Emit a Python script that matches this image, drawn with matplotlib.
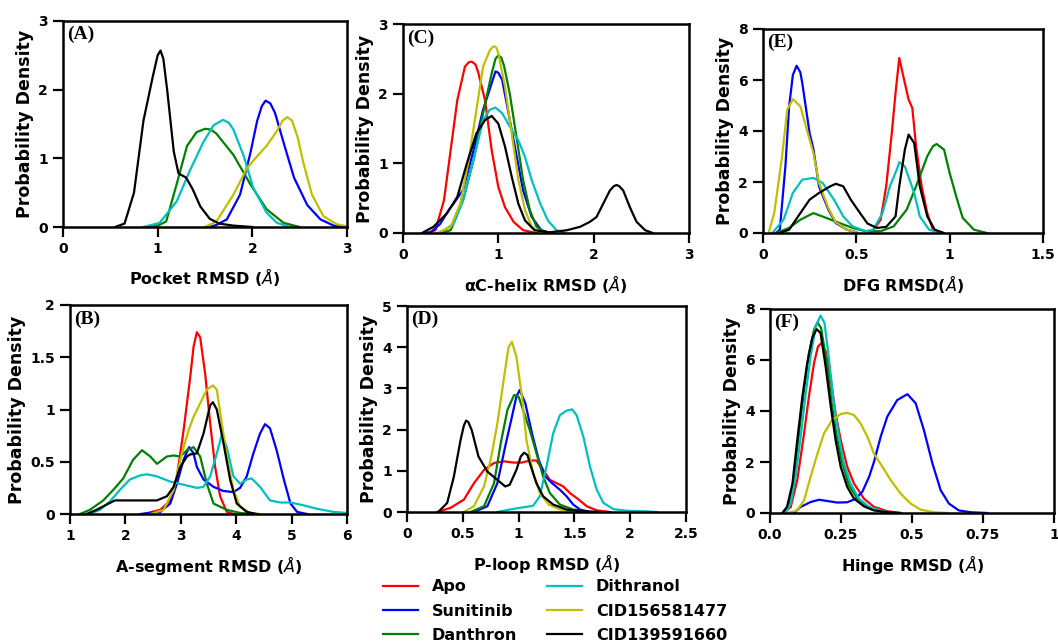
import matplotlib
matplotlib.use("Agg")
import matplotlib.pyplot as plt

W, H = 1058, 643

series_names = ["Apo", "Sunitinib", "Danthron", "Dithranol", "CID156581477", "CID139591660"]
series_colors = ["r", "b", "g", "c", "y", "k"]

# ---------------- Panel A: Pocket RMSD ----------------
A_sun_x = [1.55, 1.62, 1.73, 1.87, 1.98, 2.05, 2.1, 2.14, 2.19, 2.24, 2.33, 2.44, 2.58, 2.72, 2.86, 3.0]
A_sun_y = [0, 0.03, 0.11, 0.47, 1.08, 1.54, 1.76, 1.84, 1.8, 1.66, 1.23, 0.72, 0.32, 0.11, 0.02, 0]
A_dan_x = [0.9, 1.0, 1.09, 1.2, 1.31, 1.41, 1.5, 1.56, 1.62, 1.8, 1.98, 2.15, 2.33, 2.5]
A_dan_y = [0, 0.02, 0.08, 0.62, 1.18, 1.38, 1.43, 1.42, 1.36, 1.05, 0.62, 0.26, 0.06, 0.0]
A_dit_x = [0.85, 1.02, 1.2, 1.34, 1.48, 1.59, 1.69, 1.75, 1.8, 1.91, 2.01, 2.15, 2.26, 2.4]
A_dit_y = [0, 0.06, 0.37, 0.82, 1.23, 1.48, 1.56, 1.52, 1.42, 1.03, 0.57, 0.21, 0.06, 0.0]
A_c156_x = [1.5, 1.62, 1.8, 1.94, 2.05, 2.15, 2.26, 2.32, 2.37, 2.42, 2.48, 2.54, 2.63, 2.75, 2.89, 3.0]
A_c156_y = [0, 0.08, 0.47, 0.85, 1.03, 1.18, 1.4, 1.55, 1.6, 1.55, 1.3, 0.93, 0.47, 0.16, 0.04, 0.01]
A_c139_x = [0.55, 0.65, 0.75, 0.85, 0.95, 1.0, 1.03, 1.06, 1.1, 1.17, 1.22, 1.3, 1.37, 1.45, 1.55, 1.65, 1.8, 2.0]
A_c139_y = [0, 0.05, 0.5, 1.55, 2.2, 2.5, 2.57, 2.45, 2.0, 1.1, 0.78, 0.72, 0.55, 0.3, 0.12, 0.05, 0.02, 0]

# ---------------- Panel C: aC-helix RMSD ----------------
C_apo_x = [0.25, 0.34, 0.43, 0.5, 0.57, 0.65, 0.69, 0.72, 0.76, 0.79, 0.86, 0.93, 1.0, 1.07, 1.16, 1.26, 1.4]
C_apo_y = [0, 0.04, 0.47, 1.19, 1.91, 2.39, 2.45, 2.46, 2.42, 2.3, 1.91, 1.19, 0.66, 0.37, 0.16, 0.04, 0]
C_sun_x = [0.22, 0.29, 0.39, 0.48, 0.53, 0.63, 0.74, 0.84, 0.93, 0.97, 1.0, 1.04, 1.1, 1.18, 1.26, 1.35, 1.45, 1.55]
C_sun_y = [0, 0.01, 0.13, 0.33, 0.42, 0.62, 1.19, 1.77, 2.15, 2.32, 2.3, 2.2, 1.77, 1.19, 0.61, 0.23, 0.04, 0]
C_dan_x = [0.4, 0.5, 0.63, 0.74, 0.84, 0.93, 0.97, 1.0, 1.03, 1.06, 1.12, 1.19, 1.26, 1.33, 1.4, 1.5]
C_dan_y = [0, 0.04, 0.47, 1.05, 1.72, 2.29, 2.5, 2.55, 2.52, 2.4, 2.0, 1.38, 0.76, 0.33, 0.09, 0]
C_dit_x = [0.39, 0.53, 0.63, 0.74, 0.84, 0.91, 0.97, 1.04, 1.12, 1.21, 1.28, 1.35, 1.44, 1.52, 1.61, 1.7]
C_dit_y = [0, 0.13, 0.47, 1.05, 1.62, 1.77, 1.8, 1.72, 1.53, 1.33, 1.09, 0.76, 0.42, 0.18, 0.04, 0]
C_c156_x = [0.36, 0.5, 0.6, 0.69, 0.77, 0.84, 0.91, 0.94, 0.96, 0.98, 1.0, 1.07, 1.14, 1.21, 1.28, 1.35, 1.45]
C_c156_y = [0, 0.09, 0.42, 1.05, 1.77, 2.39, 2.62, 2.67, 2.68, 2.66, 2.58, 2.1, 1.43, 0.76, 0.33, 0.09, 0]
C_c139_x = [0.2, 0.32, 0.46, 0.57, 0.67, 0.77, 0.86, 0.93, 1.0, 1.07, 1.14, 1.21, 1.28, 1.38, 1.54, 1.72, 1.86, 1.96,
            2.03, 2.1, 2.17, 2.21, 2.24, 2.27, 2.31, 2.38, 2.45, 2.54, 2.62]
C_c139_y = [0, 0.09, 0.28, 0.52, 1.0, 1.43, 1.62, 1.68, 1.57, 1.24, 0.81, 0.42, 0.18, 0.04, 0.01, 0.04, 0.09, 0.16,
            0.23, 0.42, 0.61, 0.67, 0.69, 0.67, 0.61, 0.37, 0.16, 0.04, 0]

# ---------------- Panel E: DFG RMSD ----------------
E_apo_x = [0.58, 0.63, 0.66, 0.69, 0.71, 0.73, 0.75, 0.78, 0.8, 0.82, 0.85, 0.88, 0.91, 0.95]
E_apo_y = [0, 0.52, 1.83, 3.92, 5.49, 6.86, 6.2, 5.23, 4.9, 3.4, 1.83, 0.78, 0.13, 0]
E_sun_x = [0.07, 0.09, 0.12, 0.14, 0.16, 0.18, 0.2, 0.21, 0.23, 0.25, 0.27, 0.3, 0.35, 0.39, 0.45, 0.5]
E_sun_y = [0, 0.13, 2.61, 4.97, 6.2, 6.56, 6.3, 5.9, 4.9, 3.9, 3.3, 1.83, 0.92, 0.39, 0.13, 0.03]
E_dan_x = [0.07, 0.14, 0.2, 0.27, 0.34, 0.41, 0.48, 0.55, 0.63, 0.7, 0.77, 0.82, 0.88, 0.91, 0.93, 0.97, 1.0, 1.04,
           1.07, 1.13, 1.2]
E_dan_y = [0, 0.2, 0.52, 0.78, 0.59, 0.39, 0.2, 0.07, 0.07, 0.26, 0.92, 1.83, 3.01, 3.4, 3.49, 3.27, 2.35, 1.31,
           0.59, 0.13, 0]
E_dit_x = [0.05, 0.11, 0.16, 0.21, 0.27, 0.32, 0.38, 0.43, 0.48, 0.55, 0.59, 0.64, 0.68, 0.72, 0.73, 0.76, 0.81,
           0.84, 0.89, 0.95]
E_dit_y = [0, 0.52, 1.57, 2.09, 2.16, 1.96, 1.31, 0.65, 0.26, 0.07, 0.13, 0.78, 1.83, 2.55, 2.78, 2.61, 1.57,
           0.65, 0.13, 0]
E_c156_x = [0.03, 0.06, 0.1, 0.13, 0.16, 0.2, 0.23, 0.27, 0.3, 0.35, 0.39, 0.45, 0.5]
E_c156_y = [0, 0.78, 2.88, 4.84, 5.25, 4.97, 4.18, 3.14, 1.96, 0.98, 0.42, 0.13, 0.03]
E_c139_x = [0.09, 0.14, 0.2, 0.25, 0.3, 0.36, 0.39, 0.43, 0.47, 0.52, 0.56, 0.61, 0.66, 0.71, 0.73, 0.76, 0.78,
            0.81, 0.84, 0.88, 0.92, 0.97]
E_c139_y = [0, 0.13, 0.78, 1.31, 1.57, 1.83, 1.93, 1.83, 1.31, 0.78, 0.37, 0.2, 0.24, 0.65, 1.83, 3.27, 3.86,
            3.53, 1.83, 0.65, 0.13, 0]

# ---------------- Panel B: A-segment RMSD ----------------
B_apo_x = [2.33, 2.63, 2.81, 2.93, 3.05, 3.17, 3.23, 3.29, 3.35, 3.44, 3.53, 3.62, 3.71, 3.83, 3.95]
B_apo_y = [0, 0.04, 0.13, 0.36, 0.8, 1.31, 1.6, 1.74, 1.69, 1.34, 0.87, 0.45, 0.17, 0.02, 0]
B_sun_x = [2.27, 2.63, 2.81, 2.93, 3.05, 3.15, 3.23, 3.29, 3.41, 3.59, 3.77, 3.95, 4.07, 4.19, 4.31, 4.43, 4.52,
           4.61, 4.73, 4.86, 4.98, 5.1, 5.28]
B_sun_y = [0, 0.02, 0.1, 0.29, 0.52, 0.64, 0.58, 0.45, 0.33, 0.26, 0.22, 0.21, 0.25, 0.36, 0.58, 0.77, 0.86,
           0.82, 0.61, 0.33, 0.1, 0.02, 0]
B_dan_x = [1.18, 1.36, 1.6, 1.78, 1.96, 2.14, 2.3, 2.45, 2.57, 2.75, 2.87, 2.99, 3.11, 3.23, 3.35, 3.47, 3.59,
           3.83, 4.07, 4.31]
B_dan_y = [0, 0.04, 0.13, 0.23, 0.34, 0.52, 0.61, 0.55, 0.48, 0.55, 0.56, 0.55, 0.61, 0.64, 0.55, 0.29, 0.1,
           0.04, 0.01, 0]
B_dit_x = [1.36, 1.54, 1.72, 1.9, 2.08, 2.27, 2.39, 2.57, 2.81, 3.05, 3.29, 3.41, 3.53, 3.65, 3.74, 3.83, 3.95,
           4.07, 4.19, 4.28, 4.43, 4.61, 4.8, 4.98, 5.16, 5.46, 5.76, 6.0]
B_dit_y = [0, 0.04, 0.12, 0.23, 0.33, 0.37, 0.38, 0.36, 0.31, 0.28, 0.25, 0.26, 0.36, 0.58, 0.76, 0.64, 0.36,
           0.29, 0.33, 0.34, 0.26, 0.13, 0.11, 0.11, 0.09, 0.05, 0.02, 0.01]
B_c156_x = [2.45, 2.69, 2.87, 3.02, 3.14, 3.23, 3.35, 3.47, 3.58, 3.65, 3.74, 3.83, 3.95, 4.07, 4.25, 4.43]
B_c156_y = [0, 0.04, 0.23, 0.58, 0.8, 0.93, 1.06, 1.19, 1.23, 1.19, 0.87, 0.55, 0.23, 0.07, 0.01, 0]
B_c139_x = [1.3, 1.48, 1.66, 1.81, 1.96, 2.27, 2.57, 2.75, 2.87, 2.99, 3.11, 3.17, 3.29, 3.41, 3.53, 3.58, 3.65,
            3.77, 3.89, 4.01, 4.19, 4.37]
B_c139_y = [0, 0.04, 0.09, 0.13, 0.13, 0.13, 0.13, 0.17, 0.26, 0.45, 0.55, 0.57, 0.58, 0.77, 1.04, 1.07, 1.0,
            0.68, 0.33, 0.1, 0.02, 0]

# ---------------- Panel D: P-loop RMSD ----------------
D_apo_x = [0.27, 0.39, 0.51, 0.6, 0.69, 0.78, 0.87, 0.95, 1.03, 1.1, 1.16, 1.22, 1.28, 1.34, 1.4, 1.46, 1.54,
           1.61, 1.7, 1.82]
D_apo_y = [0, 0.1, 0.3, 0.7, 1.02, 1.19, 1.23, 1.2, 1.2, 1.25, 1.25, 1.02, 0.78, 0.7, 0.62, 0.46, 0.3, 0.14,
           0.04, 0]
D_sun_x = [0.6, 0.72, 0.81, 0.88, 0.94, 0.98, 1.01, 1.06, 1.12, 1.18, 1.24, 1.3, 1.37, 1.43, 1.49, 1.55, 1.64]
D_sun_y = [0, 0.14, 0.7, 1.59, 2.31, 2.8, 2.96, 2.64, 1.91, 1.27, 0.86, 0.7, 0.54, 0.38, 0.18, 0.06, 0]
D_dan_x = [0.57, 0.69, 0.78, 0.84, 0.9, 0.96, 1.0, 1.04, 1.1, 1.16, 1.22, 1.28, 1.37, 1.49, 1.61]
D_dan_y = [0, 0.14, 0.7, 1.67, 2.48, 2.84, 2.8, 2.48, 1.99, 1.43, 0.86, 0.46, 0.18, 0.06, 0]
D_dit_x = [0.81, 0.92, 1.01, 1.13, 1.19, 1.25, 1.31, 1.37, 1.43, 1.48, 1.52, 1.58, 1.64, 1.7, 1.76, 1.85, 1.97,
           2.12, 2.24]
D_dit_y = [0, 0.06, 0.1, 0.15, 0.38, 1.1, 1.91, 2.35, 2.46, 2.49, 2.35, 1.83, 1.1, 0.54, 0.22, 0.07, 0.03,
           0.02, 0]
D_c156_x = [0.51, 0.6, 0.69, 0.75, 0.81, 0.87, 0.91, 0.94, 0.98, 1.03, 1.07, 1.13, 1.19, 1.27, 1.37, 1.52]
D_c156_y = [0, 0.14, 0.62, 1.27, 2.15, 3.28, 4.0, 4.13, 3.77, 2.8, 1.75, 0.94, 0.46, 0.18, 0.06, 0]
D_c139_x = [0.28, 0.36, 0.42, 0.48, 0.51, 0.53, 0.55, 0.58, 0.64, 0.72, 0.81, 0.88, 0.92, 0.98, 1.02, 1.05, 1.08,
            1.1, 1.16, 1.22, 1.31, 1.43, 1.58, 1.73]
D_c139_y = [0, 0.22, 0.86, 1.75, 2.1, 2.22, 2.18, 1.99, 1.35, 0.98, 0.78, 0.62, 0.66, 1.02, 1.35, 1.44, 1.38,
            1.19, 0.7, 0.38, 0.18, 0.06, 0.02, 0]

# ---------------- Panel F: Hinge RMSD ----------------
F_apo_x = [0.049, 0.073, 0.096, 0.12, 0.137, 0.155, 0.169, 0.181, 0.196, 0.214, 0.231, 0.249, 0.272, 0.296,
           0.331, 0.366, 0.413, 0.46]
F_apo_y = [0, 0.24, 1.29, 3.12, 4.56, 5.88, 6.53, 6.66, 6.33, 5.22, 3.91, 2.86, 1.81, 1.15, 0.56, 0.24, 0.07, 0]
F_sun_x = [0.085, 0.108, 0.143, 0.173, 0.202, 0.237, 0.272, 0.302, 0.325, 0.349, 0.366, 0.39, 0.413, 0.448,
           0.484, 0.513, 0.542, 0.572, 0.601, 0.63, 0.665, 0.707, 0.765]
F_sun_y = [0, 0.24, 0.43, 0.52, 0.47, 0.41, 0.42, 0.56, 0.83, 1.42, 2.0, 3.0, 3.78, 4.43, 4.66, 4.3, 3.25, 1.94,
           0.89, 0.37, 0.1, 0.03, 0]
F_dan_x = [0.049, 0.067, 0.085, 0.102, 0.12, 0.137, 0.155, 0.167, 0.18, 0.2, 0.217, 0.235, 0.255, 0.278, 0.308,
           0.343, 0.39, 0.437]
F_dan_y = [0, 0.37, 1.42, 3.12, 4.83, 6.27, 7.19, 7.48, 7.25, 5.88, 4.3, 2.99, 1.94, 1.09, 0.56, 0.24, 0.07, 0]
F_dit_x = [0.055, 0.073, 0.09, 0.108, 0.126, 0.143, 0.161, 0.178, 0.192, 0.208, 0.225, 0.243, 0.26, 0.284,
           0.313, 0.349, 0.396, 0.442]
F_dit_y = [0, 0.37, 1.42, 2.99, 4.7, 6.14, 7.32, 7.74, 7.45, 6.01, 4.3, 2.99, 1.94, 1.15, 0.56, 0.24, 0.07, 0]
F_c156_x = [0.061, 0.096, 0.12, 0.143, 0.167, 0.19, 0.219, 0.249, 0.272, 0.296, 0.319, 0.343, 0.366, 0.396,
            0.425, 0.46, 0.495, 0.531, 0.577, 0.624]
F_c156_y = [0, 0.1, 0.5, 1.42, 2.33, 3.12, 3.65, 3.88, 3.93, 3.84, 3.51, 2.99, 2.33, 1.81, 1.29, 0.76, 0.37,
            0.13, 0.03, 0]
F_c139_x = [0.043, 0.06, 0.079, 0.096, 0.114, 0.131, 0.149, 0.164, 0.178, 0.196, 0.214, 0.231, 0.249, 0.272,
            0.296, 0.331, 0.366, 0.413, 0.46]
F_c139_y = [0, 0.24, 1.15, 2.86, 4.56, 5.88, 6.86, 7.21, 7.06, 5.74, 4.17, 2.86, 1.81, 1.02, 0.56, 0.26, 0.1,
            0.03, 0]

# ---------------- Axis definitions ----------------
A_xticks = [0, 1, 2, 3]; A_xlabels = ["0", "1", "2", "3"]
A_yticks = [0, 1, 2, 3]; A_ylabels = ["0", "1", "2", "3"]
C_xticks = [0, 1, 2, 3]; C_xlabels = ["0", "1", "2", "3"]
C_yticks = [0, 1, 2, 3]; C_ylabels = ["0", "1", "2", "3"]
E_xticks = [0, 0.5, 1, 1.5]; E_xlabels = ["0", "0.5", "1", "1.5"]
E_yticks = [0, 2, 4, 6, 8]; E_ylabels = ["0", "2", "4", "6", "8"]
B_xticks = [1, 2, 3, 4, 5, 6]; B_xlabels = ["1", "2", "3", "4", "5", "6"]
B_yticks = [0, 0.5, 1, 1.5, 2]; B_ylabels = ["0", "0.5", "1", "1.5", "2"]
D_xticks = [0, 0.5, 1, 1.5, 2, 2.5]; D_xlabels = ["0", "0.5", "1", "1.5", "2", "2.5"]
D_yticks = [0, 1, 2, 3, 4, 5]; D_ylabels = ["0", "1", "2", "3", "4", "5"]
F_xticks = [0, 0.25, 0.5, 0.75, 1]; F_xlabels = ["0.0", "0.25", "0.5", "0.75", "1"]
F_yticks = [0, 2, 4, 6, 8]; F_ylabels = ["0", "2", "4", "6", "8"]

panels = [
    dict(tag="(A)", box=(63, 21, 347, 227), xlabel=r"Pocket RMSD ($\AA$)", lp=7,
         curves=[None, (A_sun_x, A_sun_y), (A_dan_x, A_dan_y), (A_dit_x, A_dit_y), (A_c156_x, A_c156_y), (A_c139_x, A_c139_y)],
         xt=(A_xticks, A_xlabels), yt=(A_yticks, A_ylabels)),
    dict(tag="(C)", box=(403, 24, 689, 233), xlabel=r"αC-helix RMSD ($\AA$)", lp=8,
         curves=[(C_apo_x, C_apo_y), (C_sun_x, C_sun_y), (C_dan_x, C_dan_y), (C_dit_x, C_dit_y), (C_c156_x, C_c156_y), (C_c139_x, C_c139_y)],
         xt=(C_xticks, C_xlabels), yt=(C_yticks, C_ylabels)),
    dict(tag="(E)", box=(763, 29, 1043, 233), xlabel=r"DFG RMSD($\AA$)", lp=8,
         curves=[(E_apo_x, E_apo_y), (E_sun_x, E_sun_y), (E_dan_x, E_dan_y), (E_dit_x, E_dit_y), (E_c156_x, E_c156_y), (E_c139_x, E_c139_y)],
         xt=(E_xticks, E_xlabels), yt=(E_yticks, E_ylabels)),
    dict(tag="(B)", box=(70, 305, 347, 514), xlabel=r"A-segment RMSD ($\AA$)", lp=8,
         curves=[(B_apo_x, B_apo_y), (B_sun_x, B_sun_y), (B_dan_x, B_dan_y), (B_dit_x, B_dit_y), (B_c156_x, B_c156_y), (B_c139_x, B_c139_y)],
         xt=(B_xticks, B_xlabels), yt=(B_yticks, B_ylabels)),
    dict(tag="(D)", box=(407, 306, 686, 512), xlabel=r"P-loop RMSD ($\AA$)", lp=8,
         curves=[(D_apo_x, D_apo_y), (D_sun_x, D_sun_y), (D_dan_x, D_dan_y), (D_dit_x, D_dit_y), (D_c156_x, D_c156_y), (D_c139_x, D_c139_y)],
         xt=(D_xticks, D_xlabels), yt=(D_yticks, D_ylabels)),
    dict(tag="(F)", box=(770, 309, 1054, 513), xlabel=r"Hinge RMSD ($\AA$)", lp=8,
         curves=[(F_apo_x, F_apo_y), (F_sun_x, F_sun_y), (F_dan_x, F_dan_y), (F_dit_x, F_dit_y), (F_c156_x, F_c156_y), (F_c139_x, F_c139_y)],
         xt=(F_xticks, F_xlabels), yt=(F_yticks, F_ylabels)),
]

fig = plt.figure(figsize=(W / 100, H / 100), dpi=100)
handles = {}
for p in panels:
    x0, y0, x1, y1 = p["box"]
    ax = fig.add_axes([x0 / W, 1 - y1 / H, (x1 - x0) / W, (y1 - y0) / H])
    for name, col, cur in zip(series_names, series_colors, p["curves"]):
        if cur is None:
            continue
        ln, = ax.plot(cur[0], cur[1], color=col, lw=1.6, label=name, solid_joinstyle="round")
        handles[name] = ln
    xt, xl = p["xt"]
    yt, yl = p["yt"]
    ax.set_xticks(xt)
    ax.set_xticklabels(xl)
    ax.set_yticks(yt)
    ax.set_yticklabels(yl)
    ax.set_xlim(xt[0], xt[-1])
    ax.set_ylim(yt[0], yt[-1])
    for lab in ax.get_xticklabels() + ax.get_yticklabels():
        lab.set_fontweight("bold")
        lab.set_fontsize(10)
    ax.tick_params(direction="out", length=7, width=1.6, pad=4)
    for s in ax.spines.values():
        s.set_linewidth(1.8)
    ax.set_xlabel(p["xlabel"], fontsize=11.5, fontweight="bold", labelpad=p["lp"])
    ax.set_ylabel("Probability Density", fontsize=12.5, fontweight="bold", labelpad=3)
    ax.text(0.015, 0.975, p["tag"], transform=ax.transAxes, ha="left", va="top",
            family="Liberation Serif", fontweight="bold", fontsize=14)

fig.legend([handles[n] for n in series_names], series_names, ncol=2, loc="center",
           bbox_to_anchor=(555 / W, 1 - 611 / H), frameon=False,
           prop=dict(weight="bold", size=11.5), handlelength=2.2, handletextpad=0.85,
           columnspacing=1.9, labelspacing=0.57, borderpad=0.1)

fig.savefig("out.png", dpi=100)
